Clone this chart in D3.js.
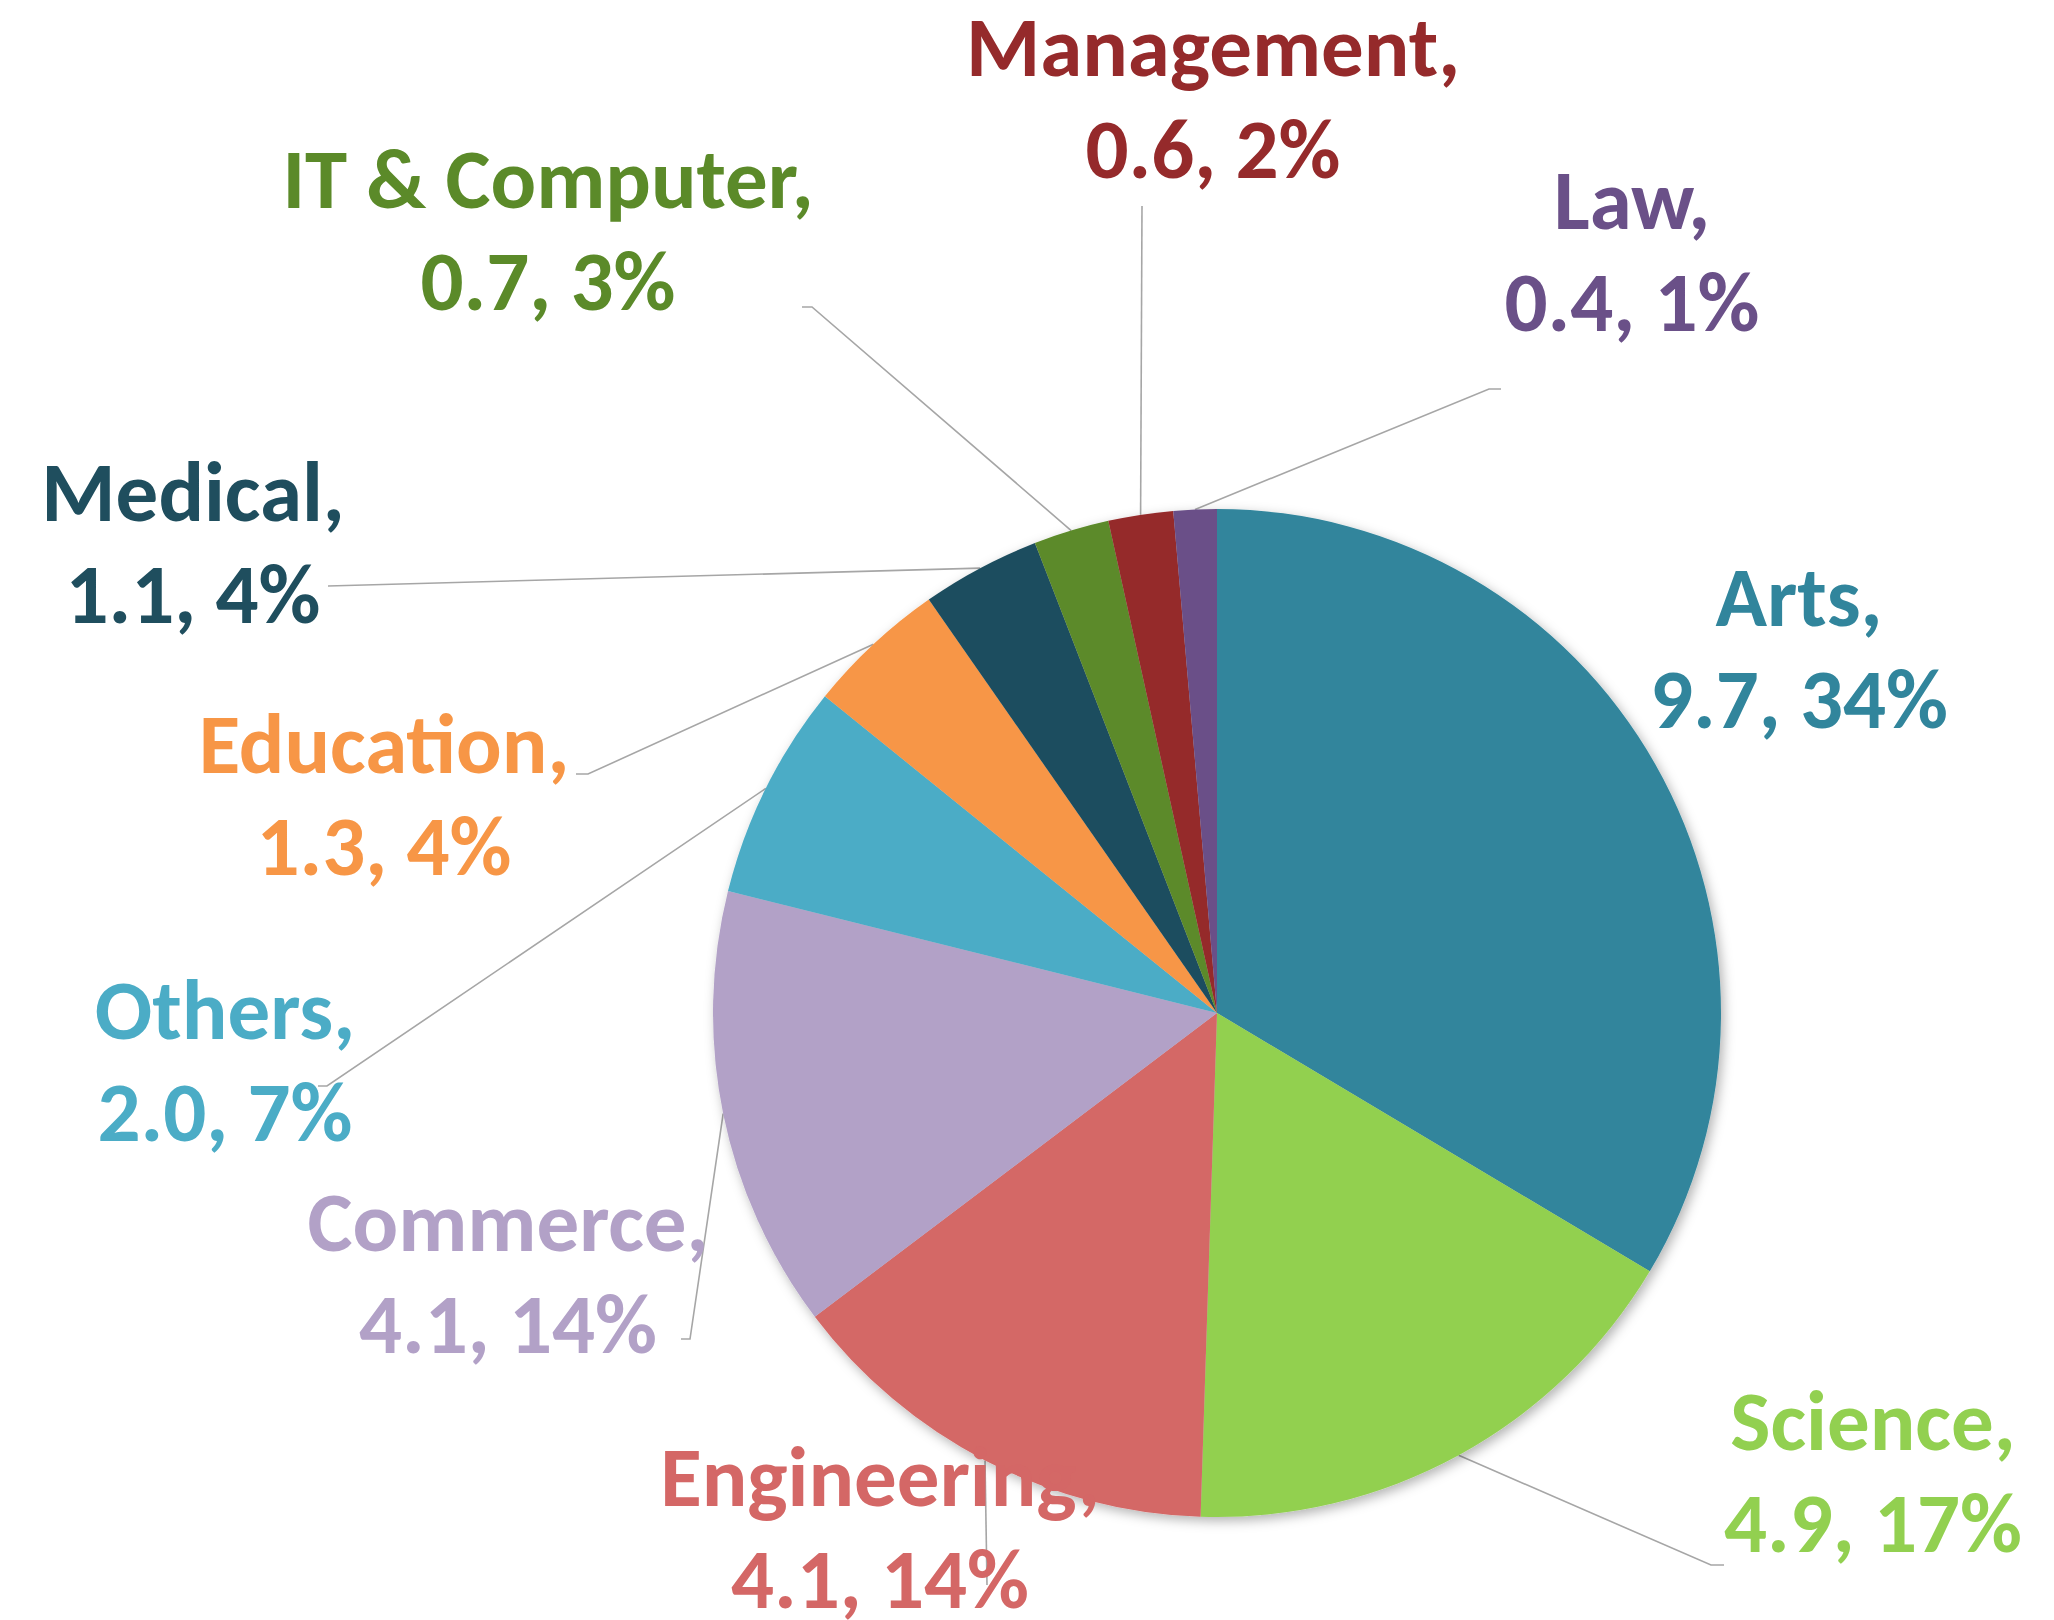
<!DOCTYPE html>
<html>
<head>
<meta charset="utf-8">
<script src="https://cdn.jsdelivr.net/npm/d3@7"></script>
<style>
  body { margin: 0; background: #fff; }
  svg text { font-family: Calibri, Carlito, Lato, "Open Sans", sans-serif; font-weight: bold; }
</style>
</head>
<body>
<svg width="2054" height="1620"></svg>
<script>
// data (clockwise from 12 o'clock)
const categories = ["Arts", "Science", "Engineering", "Commerce", "Others", "Education", "Medical", "IT & Computer", "Management", "Law"];
const values = [9.7, 4.9, 4.1, 4.1, 2.0, 1.3, 1.1, 0.7, 0.6, 0.4];
const percentLabels = ["34%", "17%", "14%", "14%", "7%", "4%", "4%", "3%", "2%", "1%"];
const colors = ["#31859C", "#92D050", "#D46766", "#B2A1C7", "#4BACC6", "#F79646", "#1F4E5E", "#5B8A29", "#952A2B", "#6A5088"];

// label placement: x centre, first baseline, leader line bend + end (null = no line)
const labelPos = [
    { x: 1799, y: 626, line: null },
    { x: 1873, y: 1450, line: [[1711, 1565], [1724, 1565]] },
    { x: 880, y: 1506, line: [[987, 1585]] },
    { x: 508, y: 1251, line: [[690, 1339], [681, 1339]] },
    { x: 225, y: 1039, line: [[327, 1086], [318, 1086]] },
    { x: 384, y: 773, line: [[588, 774], [576, 774]] },
    { x: 193, y: 521, line: [[328, 586]] },
    { x: 548, y: 208, line: [[812, 307], [802, 307]] },
    { x: 1213, y: 76, line: [[1142, 206]] },
    { x: 1632, y: 229, line: [[1489, 389], [1501, 389]] }
];

const svg = d3.select("svg"),
    cx = 1217,
    cy = 1013,
    radius = 504;

const data = categories.map(function (c, i) {
    return { name: c, value: values[i], pct: percentLabels[i], color: colors[i], pos: labelPos[i] };
});

const defs = svg.append("defs");
const shadow = defs.append("filter").attr("id", "shadow")
    .attr("x", "-10%").attr("y", "-10%").attr("width", "120%").attr("height", "120%");
shadow.append("feDropShadow")
    .attr("dx", 3).attr("dy", 4).attr("stdDeviation", 6)
    .attr("flood-color", "#000").attr("flood-opacity", 0.3);

let pie = d3.pie()
    .sort(null)
    .value(function (d) { return d.value; });

let path = d3.arc()
    .outerRadius(radius)
    .innerRadius(0);

let edge = d3.arc()
    .outerRadius(radius)
    .innerRadius(radius);

const arcs = pie(data);

// leader lines
const lines = svg.append("g").attr("class", "leaders");
arcs.forEach(function (d) {
    if (!d.data.pos.line) return;
    const c = edge.centroid(d);
    const pts = [[cx + c[0], cy + c[1]]].concat(d.data.pos.line);
    lines.append("path")
        .attr("d", d3.line()(pts))
        .attr("fill", "none")
        .attr("stroke", "#A6A6A6")
        .attr("stroke-width", 1.6);
});

const g = svg.append("g")
    .attr("transform", "translate(" + cx + "," + cy + ")")
    .attr("filter", "url(#shadow)");

g.selectAll(".arc")
    .data(arcs)
    .enter().append("path")
    .attr("class", "arc")
    .attr("d", path)
    .attr("fill", function (d) { return d.data.color; });

// labels
const labels = svg.append("g").attr("class", "labels");
data.forEach(function (d) {
    const t = labels.append("text")
        .attr("x", d.pos.x)
        .attr("y", d.pos.y)
        .attr("text-anchor", "middle")
        .attr("fill", d.color)
        .attr("font-size", 85);
    t.append("tspan").attr("x", d.pos.x).text(d.name + ",");
    t.append("tspan").attr("x", d.pos.x).attr("dy", 102)
        .text(d3.format(".1f")(d.value) + ", " + d.pct);
});
</script>
</body>
</html>
